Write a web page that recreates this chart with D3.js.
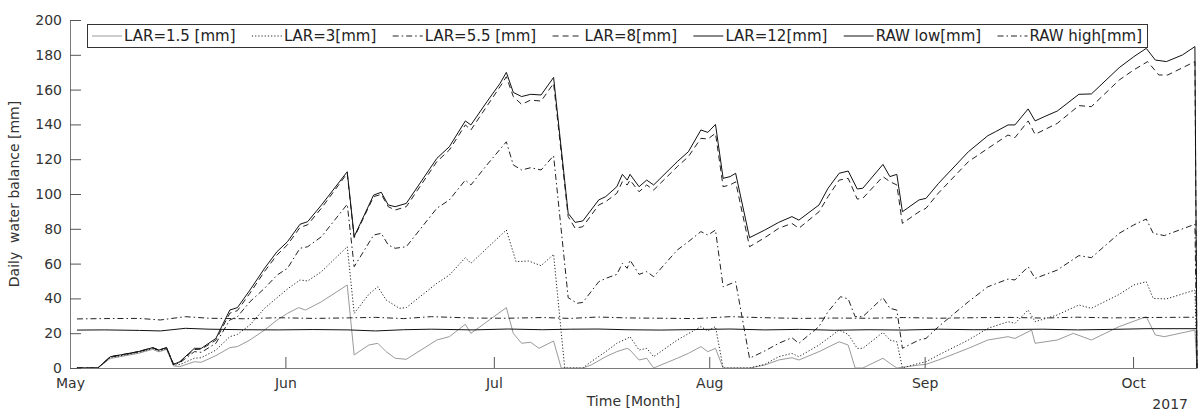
<!DOCTYPE html>
<html>
<head>
<meta charset="utf-8">
<script src="https://cdn.jsdelivr.net/npm/d3@7"></script>
<style>
  body { margin: 0; background: #fff; }
  svg { display: block; font-family: "DejaVu Sans", Verdana, sans-serif; }
</style>
</head>
<body>
<svg id="chart" width="1199" height="412"></svg>
<script>
// day offsets from 1 May 2017, values in mm
var lar15 = [[1,0],[4,0],[5.8,5.5],[7.8,6.9],[9.8,8.4],[11.9,10.7],[12.8,9.3],[13.9,10.7],[14.9,1.2],[15.8,0.8],
  [17.9,3.6],[18.9,3.3],[21,7.1],[23,11.7],[24.1,12.3],[25.9,16.1],[28,21.8],[29.8,27.6],[31.3,31.4],[32.9,34.7],
  [33.9,33.3],[36.2,38.1],[39.9,47.7],[40.9,7.5],[43,13.2],[44.3,14.2],[45.5,9.4],[46.8,5.6],[48.4,5],[52.8,16.1],
  [54.6,18],[56.9,25.1],[57.7,19.9],[60,26.6],[62.8,34.7],[63.8,19.9],[65,14.2],[66.3,14.8],[67.5,11.3],[69.6,15.5],
  [70.7,0],[73.8,0],[75,1.7],[77.1,6.5],[78.7,9.4],[80.2,11.3],[80.6,10.3],[81.9,4.6],[83,5.6],[84,0],[87.4,5.6],
  [89,8.4],[90.8,12.3],[91.8,9.4],[92.9,11.3],[94,0],[97.8,0],[100,1.7],[102,4.6],[103.9,5.9],[104.9,4.6],[107.8,9.4],
  [110.7,15.1],[112,13.2],[113,0],[114.1,0],[117,5.6],[118,2.7],[119,0],[122.2,1.7],[123.2,2.1],[125,4.6],[129.3,11.3],
  [132.1,16.1],[135,18],[136,17],[138.4,21.8],[138.9,14.2],[142.1,16.1],[144.4,19.9],[147,16.1],[151,23.8],[154.9,29.5],
  [156.2,19],[157.5,18],[161.9,21.8],[162.2,0]];

var lar3 = [[1,0],[4,0],[5.8,6],[7.8,7.4],[9.8,8.9],[11.9,11.2],[12.8,9.8],[13.9,11.2],[14.9,1.6],[15.8,2],
  [17.9,5.6],[18.9,5.9],[21,10.3],[23,18],[24.1,19.3],[25.9,24.7],[28,34.3],[29.8,40.4],[31.3,45.4],[33.1,50.6],
  [34.2,50],[36.2,55.4],[39.9,69.7],[40.9,31.4],[43,42.3],[44.3,46.7],[45.5,39.1],[47.4,34.3],[48.4,34.7],[52.8,48.7],
  [54.6,53.4],[56.9,63.4],[57.7,60.2],[60,68.8],[62.8,79.3],[64.2,61.1],[66,61.5],[67.8,58.8],[69.6,65.3],[71.2,0],
  [73.8,0],[75,3.6],[77.1,9.4],[78.7,14.2],[80.2,17],[80.6,18],[81.9,10.3],[83,11.3],[84,6.5],[87.4,16.1],[90.8,23.8],
  [91.8,21.3],[92.9,23.8],[94,0],[97.8,0],[100,2.1],[102,6.5],[103.9,8.4],[104.9,6.5],[107.8,13.2],[110.7,21.8],
  [112,19.3],[113.3,11.3],[114.1,11.3],[117,20.5],[118,16.1],[119,15.1],[119.8,0],[122.2,2.7],[123.2,3.6],[125,7.5],
  [129.3,16.1],[132.1,22.8],[135,26.6],[136,25.7],[137.9,33.3],[138.9,26.6],[142.1,30.5],[145.2,36.2],[147,34.3],
  [151,42.3],[153.1,47.7],[154.9,49.6],[155.9,40],[157.8,39.7],[161.9,44.8],[162.2,0]];

var lar55 = [[1,0],[4,0],[5.8,6.3],[7.8,7.7],[9.8,9.2],[11.9,11.5],[12.8,10.1],[13.9,11.5],[14.9,1.9],[15.8,3],
  [17.9,9.4],[18.9,9],[21,14.2],[23,27.6],[24.1,29.5],[25.9,38.1],[28,45.8],[29.8,53.4],[31.3,57.3],[33.1,68.8],
  [34.2,69.7],[36.2,75.5],[39.9,94.1],[40.9,58.2],[43.7,76.4],[44.8,77.4],[45.8,70.7],[46.8,68.8],[48.4,69.7],
  [52.8,91.8],[54.6,96.6],[56.9,108],[57.7,105.2],[60,116.7],[62.8,130],[63.8,116.7],[65,113.8],[66.3,115.1],
  [67.8,113.8],[69.6,122],[71.7,40.4],[73,37.2],[73.8,37.7],[76.1,49.6],[77.1,51.5],[78.7,53.8],[79.5,60.2],
  [80.2,57.3],[80.6,62],[81.9,53.8],[83,55.4],[84,52.5],[87.4,67.8],[89,72.6],[90.8,78.4],[91.8,76.4],[92.9,79.3],
  [94,46.7],[95.8,49.6],[97.8,5.6],[100,9.8],[102,14.2],[103.9,17.4],[104.9,14.2],[107.8,23.8],[109.1,32.4],
  [110.9,41],[112,39.7],[113,29.5],[114.1,29.5],[117,40.4],[118,34.3],[119,33.3],[119.8,11.3],[122.2,16.1],
  [123.2,17],[125,23.8],[129.3,38.1],[132.1,46.7],[135,51.1],[136,50.6],[137.9,58.2],[138.9,51.5],[142.1,56.3],
  [145.2,64.6],[147,63.4],[151,77.4],[153.1,82.2],[154.9,85.6],[155.9,77.4],[157.5,76.1],[161.9,82.6],[162.2,0]];

var lar8 = [[1,0],[4,0],[5.8,6.5],[7.8,7.9],[9.8,9.4],[11.9,11.7],[12.8,10.3],[13.9,11.7],[14.9,2.1],[15.8,3.4],
  [17.9,10.6],[18.9,10.8],[21,16],[23,31.5],[24.1,33],[25.9,43],[28,55.5],[29.8,65],[31.3,70.8],[33.1,80.8],
  [34.2,82.3],[36.2,91.9],[39.9,111.9],[40.9,74.9],[43.7,98.5],[44.8,99.8],[45.8,92.7],[46.8,90.8],[48.4,92.7],
  [52.8,118.6],[54.6,125.3],[56.9,139.7],[57.7,136.8],[60,150.5],[61.9,161.7],[62.8,167.4],[63.8,156],[65,151.5],
  [66.3,154],[67.8,153.4],[69.6,163.6],[71.7,87],[72.7,80.3],[73.8,81.2],[76.1,93.7],[77.1,95.6],[78.7,100.4],
  [79.5,107.1],[80.2,105.2],[80.6,108],[81.9,101.3],[83,105.2],[84,102.3],[87.4,115.7],[89,121.5],[90.8,132],
  [91.8,131.6],[92.9,134.9],[94,104.2],[95,105.2],[95.8,107],[97.8,69.7],[100,74.9],[102,80.3],[103.9,83.1],
  [104.9,80.3],[107.8,89.8],[109.1,98.5],[110.7,108],[112,109],[113.3,97.1],[114.1,97.5],[117,110],[118,107.1],
  [119,105.2],[119.8,83.1],[122.2,89.8],[123.2,91.8],[125,100.6],[129.3,118.6],[132.1,126.2],[135,133.9],
  [136,132.4],[137.9,142],[138.9,134.3],[142.1,140.6],[145.2,150.8],[147,150.2],[151,165.5],[153.1,171.3],
  [155.1,176.1],[156.7,168.4],[158,168.4],[161.9,176.1],[162.2,0]];

var lar12 = [[1,0],[4,0],[5.8,6.5],[7.8,7.9],[9.8,9.4],[11.9,11.7],[12.8,10.3],[13.9,11.7],[14.9,2.1],[15.8,3.6],
  [17.9,11.3],[18.9,11.3],[21,17],[23,33.3],[24.1,34.7],[25.9,44.8],[28,57.3],[29.8,66.9],[31.3,72.6],[33.1,82.6],
  [34.2,84.1],[36.2,93.7],[39.9,112.8],[40.9,75.5],[43.7,99.4],[44.8,101],[45.8,93.7],[46.8,92.7],[48.4,94.6],
  [52.8,120.5],[54.6,127.2],[56.9,142],[57.7,139.7],[60,153],[61.9,163.6],[62.8,169.9],[63.8,158.4],[65,156],
  [66.3,157.3],[67.8,156.9],[69.6,167],[71.7,88.9],[72.7,83.7],[73.8,84.5],[76.1,96.6],[77.1,98.5],[78.7,104.2],
  [79.5,111.3],[80.2,108],[80.6,111.3],[81.9,104.2],[83,108],[84,105.2],[87.4,118.6],[89,124.3],[90.8,136.8],
  [91.8,135.4],[92.9,140],[94,109],[95,110],[95.8,111.9],[97.8,74.9],[100,79.3],[102,83.7],[103.9,87],[104.9,85],
  [107.8,93.7],[109.1,103.3],[110.7,111.9],[112,113.2],[113.3,102.9],[114.1,103.3],[117,117],[118,110],[119,111.3],
  [119.8,89.8],[122.2,96.6],[123.2,97.5],[125,106.1],[129.3,124.3],[132.1,133.5],[133.2,135.8],[135,139.7],
  [136,139.7],[137.9,148.9],[138.9,142],[140.2,144.4],[142.1,147.7],[145.2,157.3],[147,157.5],[151,172.6],
  [153.1,178.9],[154.9,183.7],[156.2,177],[157.8,176.1],[160.1,179.9],[161.9,184.7],[162.2,0]];

var rawLow = [[1,21.8],[5,21.9],[10,21.6],[13,21.3],[16.6,22.8],[20,22.3],[25,22],[30,21.9],[35,22.1],[40,21.9],
  [44,21.3],[48,22],[52,22.3],[58,21.9],[63,22.4],[68,22],[72,22.3],[76,22.4],[80,22],[85,21.8],[90,22.1],[95,22.4],
  [100,21.9],[105,22.2],[110,21.7],[115,22],[120,21.8],[125,22.3],[130,22],[135,22.1],[140,22.3],[145,21.9],
  [150,22.2],[155,22.6],[162.2,22.6]];

var rawHigh = [[1,28.2],[5,28.4],[10,28.5],[13,27.6],[16.6,29.5],[20,28.6],[25,28.3],[30,28.9],[35,28.5],[40,28.8],
  [44,29.1],[48,28.4],[52,29.5],[58,28.7],[63,28.6],[68,29],[72,28.5],[76,29.3],[80,28.8],[85,28.6],[90,28.4],
  [95,29.5],[100,28.9],[105,28.5],[110,28.7],[115,28.6],[120,29],[125,28.6],[130,28.9],[135,29.1],[140,28.7],
  [145,29.2],[150,28.8],[155,29],[162.2,29.2]];

var seriesNames = ["LAR=1.5 [mm]", "LAR=3[mm]", "LAR=5.5 [mm]", "LAR=8[mm]", "LAR=12[mm]", "RAW low[mm]", "RAW high[mm]"];
var seriesData = [lar15, lar3, lar55, lar8, lar12, rawLow, rawHigh];
var seriesColor = ["#9a9a9a", "#222", "#222", "#222", "#111", "#111", "#222"];
var seriesDash = [null, "1.2,2", "6,3,1.5,3", "6,4", null, null, "6,3,1.5,3"];

var yTicks = d3.range(0, 201, 20);
var endDay = 162.2;

var svg = d3.select("#chart");
var margin = {left: 70, right: 1197, top: 20, bottom: 368};

var day0 = new Date(2017, 4, 1);
function toDate(d) { return new Date(day0.getTime() + d * 864e5); }

var x = d3.scaleTime()
    .domain([day0, toDate(endDay)])
    .range([margin.left, margin.right]);
var y = d3.scaleLinear()
    .domain([0, 200])
    .range([margin.bottom, margin.top]);

svg.append("defs").append("clipPath").attr("id", "plotclip")
    .append("rect")
    .attr("x", margin.left).attr("y", margin.top - 2)
    .attr("width", margin.right - margin.left + 2)
    .attr("height", margin.bottom - margin.top + 2);

// lines
var line = d3.line()
    .x(function(d) { return x(toDate(d[0])); })
    .y(function(d) { return y(d[1]); });

var plot = svg.append("g").attr("clip-path", "url(#plotclip)");
for (var i = 0; i < seriesData.length; i++) {
    plot.append("path")
        .datum(seriesData[i])
        .attr("fill", "none")
        .attr("stroke", seriesColor[i])
        .attr("stroke-width", 1)
        .attr("stroke-dasharray", seriesDash[i])
        .attr("d", line);
}

// axes
var xAxis = d3.axisBottom(x)
    .tickValues(d3.timeMonth.range(day0, toDate(endDay)))
    .tickFormat(d3.timeFormat("%b"))
    .tickSizeInner(-11).tickSizeOuter(0).tickPadding(10);
var gx = svg.append("g").attr("transform", "translate(0," + margin.bottom + ")").call(xAxis);

var yAxis = d3.axisLeft(y)
    .tickValues(yTicks)
    .tickSizeInner(-11).tickSizeOuter(0).tickPadding(8);
var gy = svg.append("g").attr("transform", "translate(" + margin.left + ",0)").call(yAxis);

[gx, gy].forEach(function(g) {
    g.select(".domain").attr("stroke", "#7a7a7a");
    g.selectAll(".tick line").attr("stroke", "#555");
    g.selectAll(".tick text")
        .attr("fill", "#333")
        .style("font-size", "14px")
        .style("font-family", "DejaVu Sans, Verdana, sans-serif");
});

// axis titles
svg.append("text")
    .attr("x", (margin.left + margin.right) / 2)
    .attr("y", 406)
    .attr("text-anchor", "middle")
    .attr("fill", "#333")
    .style("font-size", "14px")
    .text("Time [Month]");

svg.append("text")
    .attr("x", 1188)
    .attr("y", 409)
    .attr("text-anchor", "end")
    .attr("fill", "#333")
    .style("font-size", "14px")
    .text("2017");

svg.append("text")
    .attr("transform", "translate(19," + ((margin.top + margin.bottom) / 2) + ") rotate(-90)")
    .attr("text-anchor", "middle")
    .attr("fill", "#333")
    .style("font-size", "14px")
    .style("white-space", "pre")
    .text("Daily  water balance [mm]");

// legend
var legBox = {x: 87, y: 24, w: 1060, h: 23};
var legend = svg.append("g");
legend.append("rect")
    .attr("x", legBox.x + 0.5).attr("y", legBox.y + 0.5)
    .attr("width", legBox.w).attr("height", legBox.h)
    .attr("fill", "#fff").attr("stroke", "#333").attr("stroke-width", 1);

var lineLen = 30, lineGap = 2;
var items = [];
var textTotal = 0;
for (var j = 0; j < seriesNames.length; j++) {
    var t = legend.append("text")
        .attr("y", legBox.y + legBox.h / 2)
        .attr("dy", "0.36em")
        .attr("fill", "#222")
        .style("font-size", "15px")
        .text(seriesNames[j]);
    var w = t.node().getComputedTextLength();
    textTotal += w;
    items.push({text: t, w: w});
}
var startX = legBox.x + 5, endX = legBox.x + legBox.w - 5;
var spacing = (endX - startX - textTotal - items.length * (lineLen + lineGap)) / (items.length - 1);
var cx = startX;
items.forEach(function(it, k) {
    legend.append("line")
        .attr("x1", cx).attr("x2", cx + lineLen)
        .attr("y1", legBox.y + legBox.h / 2 + 0.5).attr("y2", legBox.y + legBox.h / 2 + 0.5)
        .attr("stroke", seriesColor[k])
        .attr("stroke-width", 1)
        .attr("stroke-dasharray", seriesDash[k]);
    it.text.attr("x", cx + lineLen + lineGap);
    cx += lineLen + lineGap + it.w + spacing;
});
</script>
</body>
</html>
